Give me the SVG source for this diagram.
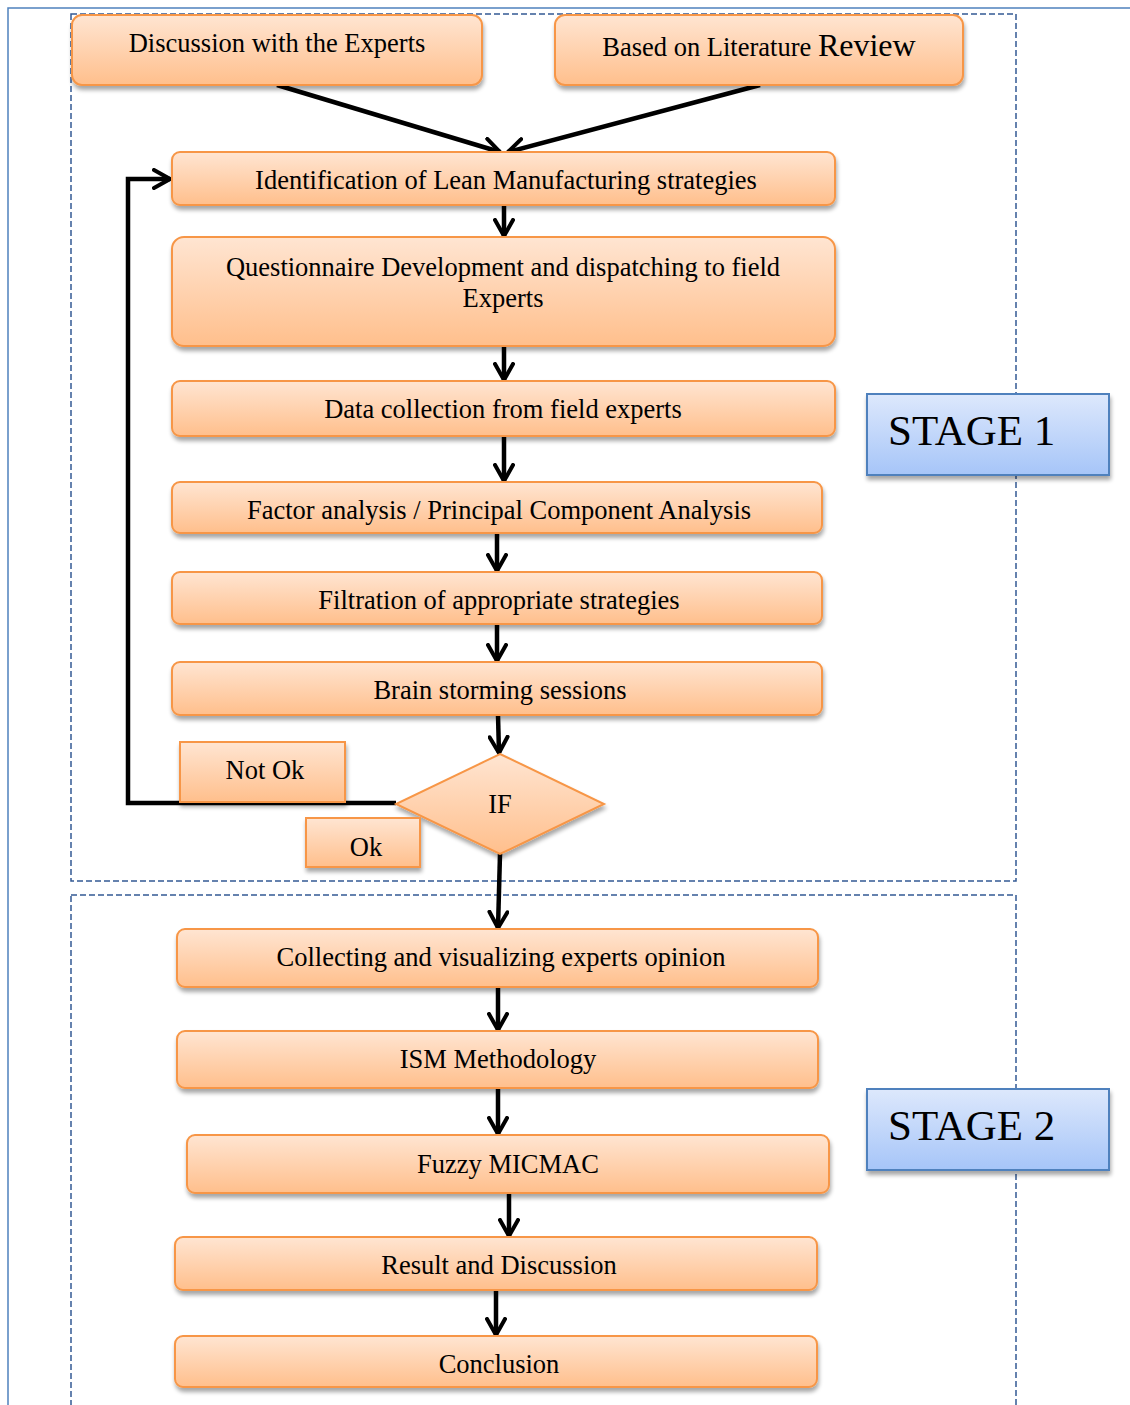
<svg xmlns="http://www.w3.org/2000/svg" width="1130" height="1405" viewBox="0 0 1130 1405">
<defs>
<linearGradient id="og" x1="0" y1="0" x2="0" y2="1">
<stop offset="0" stop-color="#FFE5D2"/>
<stop offset="1" stop-color="#FFBF8C"/>
</linearGradient>
<linearGradient id="bg" x1="0" y1="0" x2="0" y2="1">
<stop offset="0" stop-color="#DDE8FC"/>
<stop offset="1" stop-color="#A6C5F8"/>
</linearGradient>
<filter id="sh" x="-10%" y="-20%" width="120%" height="160%">
<feGaussianBlur in="SourceAlpha" stdDeviation="2"/>
<feOffset dx="1" dy="4" result="b"/>
<feComponentTransfer><feFuncA type="linear" slope="0.35"/></feComponentTransfer>
<feMerge><feMergeNode/><feMergeNode in="SourceGraphic"/></feMerge>
</filter>
<marker id="ah" viewBox="0 0 20 22" refX="18" refY="11" markerWidth="20" markerHeight="22" markerUnits="userSpaceOnUse" orient="auto">
<path d="M2,2 L18,11 L2,20" fill="none" stroke="#000" stroke-width="4" stroke-linecap="round" stroke-linejoin="miter"/>
</marker>
</defs>
<style>
.box{fill:url(#og);stroke:#F79646;stroke-width:2;filter:url(#sh)}
.stage{fill:url(#bg);stroke:#4F81BD;stroke-width:2;filter:url(#sh)}
.t{font-family:"Liberation Serif","Times New Roman",serif;font-size:26.5px;fill:#000;text-anchor:middle}
.st{font-family:"Liberation Serif","Times New Roman",serif;font-size:43px;fill:#000}
.dash{fill:none;stroke:#335A94;stroke-width:1.5;stroke-dasharray:6 3}
.c{fill:none;stroke:#000;stroke-width:4.5}
</style>
<rect x="8" y="8" width="1130" height="1410" fill="none" stroke="#4F81BD" stroke-width="1.5"/>
<rect class="dash" x="71" y="14" width="945" height="867"/>
<rect class="dash" x="71" y="895" width="945" height="530"/>

<g id="connectors">
<line class="c" x1="277" y1="85" x2="500" y2="152" marker-end="url(#ah)"/>
<line class="c" x1="760" y1="85" x2="508" y2="152" marker-end="url(#ah)"/>
<line class="c" x1="504" y1="205" x2="504" y2="236" marker-end="url(#ah)"/>
<line class="c" x1="504" y1="346" x2="504" y2="380" marker-end="url(#ah)"/>
<line class="c" x1="504" y1="436" x2="504" y2="481" marker-end="url(#ah)"/>
<line class="c" x1="497" y1="533" x2="497" y2="571" marker-end="url(#ah)"/>
<line class="c" x1="497" y1="624" x2="497" y2="661" marker-end="url(#ah)"/>
<line class="c" x1="498" y1="715" x2="499" y2="753" marker-end="url(#ah)"/>
<polyline class="c" points="396,803 128,803 128,179 170,179" marker-end="url(#ah)"/>
<line class="c" x1="500" y1="854" x2="498" y2="928" marker-end="url(#ah)"/>
<line class="c" x1="498" y1="987" x2="498" y2="1030" marker-end="url(#ah)"/>
<line class="c" x1="498" y1="1088" x2="498" y2="1134" marker-end="url(#ah)"/>
<line class="c" x1="509" y1="1193" x2="509" y2="1236" marker-end="url(#ah)"/>
<line class="c" x1="496" y1="1290" x2="496" y2="1335" marker-end="url(#ah)"/>
</g>

<g id="n-discussion"><rect class="box" x="72" y="15" width="410" height="70" rx="10"/><text class="t" x="277" y="52">Discussion with the Experts</text></g>
<g id="n-literature"><rect class="box" x="555" y="15" width="408" height="70" rx="10"/><text class="t" x="759" y="56">Based on Literature <tspan font-size="32">Review</tspan></text></g>
<g id="n-identification"><rect class="box" x="172" y="152" width="663" height="53" rx="8"/><text class="t" x="506" y="189">Identification of Lean Manufacturing strategies</text></g>
<g id="n-questionnaire"><rect class="box" x="172" y="237" width="663" height="109" rx="12"/><text class="t" x="503" y="276">Questionnaire Development and dispatching to field</text><text class="t" x="503" y="307">Experts</text></g>
<g id="n-data"><rect class="box" x="172" y="381" width="663" height="55" rx="8"/><text class="t" x="503" y="418">Data collection from field experts</text></g>
<g id="n-factor"><rect class="box" x="172" y="482" width="650" height="51" rx="8"/><text class="t" x="499" y="519">Factor analysis / Principal Component Analysis</text></g>
<g id="n-filtration"><rect class="box" x="172" y="572" width="650" height="52" rx="8"/><text class="t" x="499" y="609">Filtration of appropriate strategies</text></g>
<g id="n-brain"><rect class="box" x="172" y="662" width="650" height="53" rx="8"/><text class="t" x="500" y="699">Brain storming sessions</text></g>
<g id="n-notok"><rect class="box" x="180" y="742" width="165" height="60"/><text class="t" x="265" y="779">Not Ok</text></g>
<g id="n-if"><polygon class="box" points="500,754 604,804 500,854 396,804"/><text class="t" x="500" y="813">IF</text></g>
<g id="n-ok"><rect class="box" x="306" y="818" width="114" height="49"/><text class="t" x="366" y="856">Ok</text></g>
<g id="n-collecting"><rect class="box" x="177" y="929" width="641" height="58" rx="8"/><text class="t" x="501" y="966">Collecting and visualizing experts opinion</text></g>
<g id="n-ism"><rect class="box" x="177" y="1031" width="641" height="57" rx="8"/><text class="t" x="498" y="1068">ISM Methodology</text></g>
<g id="n-fuzzy"><rect class="box" x="187" y="1135" width="642" height="58" rx="8"/><text class="t" x="508" y="1173">Fuzzy MICMAC</text></g>
<g id="n-result"><rect class="box" x="175" y="1237" width="642" height="53" rx="8"/><text class="t" x="499" y="1274">Result and Discussion</text></g>
<g id="n-conclusion"><rect class="box" x="175" y="1336" width="642" height="51" rx="8"/><text class="t" x="499" y="1373">Conclusion</text></g>
<g id="n-stage1"><rect class="stage" x="867" y="394" width="242" height="81"/><text class="st" x="888" y="445">STAGE 1</text></g>
<g id="n-stage2"><rect class="stage" x="867" y="1089" width="242" height="81"/><text class="st" x="888" y="1140">STAGE 2</text></g>
</svg>
